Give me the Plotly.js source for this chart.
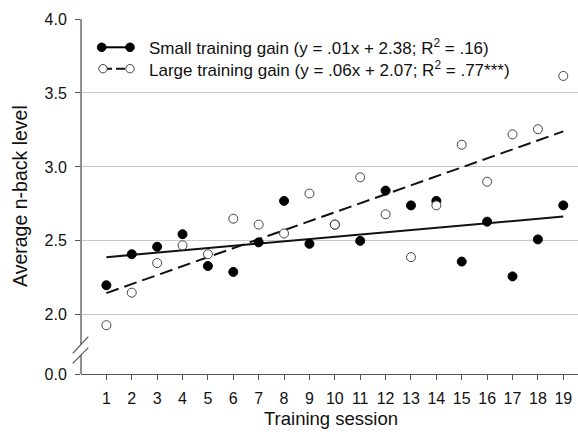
<!DOCTYPE html>
<html>
<head>
<meta charset="utf-8">
<script src="https://cdn.plot.ly/plotly-3.0.1.min.js"></script>
<style>html,body{margin:0;padding:0;background:#fff;}#chart{width:578px;height:435px;}</style>
</head>
<body>
<div id="chart"></div>
<script>
// ---- data ----
const sessions = [1,2,3,4,5,6,7,8,9,10,11,12,13,14,15,16,17,18,19];
const smallGain = [2.20,2.41,2.46,2.545,2.33,2.29,2.49,2.77,2.48,2.61,2.50,2.84,2.74,2.77,2.36,2.63,2.26,2.51,2.74];
const largeGain = [1.93,2.15,2.35,2.47,2.41,2.65,2.61,2.55,2.82,2.61,2.93,2.68,2.39,2.74,3.15,2.90,3.22,3.255,3.615];
const fitX = [1, 19];
const smallFit = [2.39, 2.665];
const largeFit = [2.147, 3.24];
const smallLabel = 'Small training gain (y = .01x + 2.38; R<sup>2</sup> = .16)';
const largeLabel = 'Large training gain (y = .06x + 2.07; R<sup>2</sup> = .77***)';
const xTitle = 'Training session';
const yTitle = 'Average n-back level';
const yTickText = ['0.0','2.0','2.5','3.0','3.5','4.0'];
const yTickReal = [0, 2.0, 2.5, 3.0, 3.5, 4.0];

// ---- broken-axis display mapping (0.0 drawn just below 2.0) ----
const breakBase = 1.6;
const yTickVals = yTickReal.map(v => v === 0 ? breakBase : v);

const W = 578, H = 435;
const M = {l:81, r:0, t:19, b:61};
const pw = W - M.l - M.r, ph = H - M.t - M.b;
const px = x => (x - M.l) / pw;          // pixel -> paper x
const py = y => (H - M.b - y) / ph;      // pixel -> paper y
const axisCol = '#555555';

const traces = [
  {x: fitX, y: smallFit, type:'scatter', mode:'lines', line:{color:'#111', width:2}, hoverinfo:'skip'},
  {x: fitX, y: largeFit, type:'scatter', mode:'lines', line:{color:'#111', width:2, dash:'13px,6px'}, hoverinfo:'skip'},
  {x: sessions, y: smallGain, type:'scatter', mode:'markers',
   marker:{symbol:'circle', size:9, color:'#000', line:{color:'#000', width:1}}},
  {x: sessions, y: largeGain, type:'scatter', mode:'markers',
   marker:{symbol:'circle', size:9, color:'#fff', line:{color:'#444', width:1}}}
];

function circ(cx, cy, r, fill, stroke){
  return {type:'circle', xref:'paper', yref:'paper', xsizemode:'pixel', ysizemode:'pixel',
    xanchor:px(cx), yanchor:py(cy), x0:-r, x1:r, y0:-r, y1:r,
    fillcolor:fill, line:{color:stroke, width:1}, layer:'above'};
}
function seg(x0,y0,x1,y1,col,w,dash){
  return {type:'line', xref:'paper', yref:'paper', x0:px(x0), y0:py(y0), x1:px(x1), y1:py(y1),
    line:{color:col, width:w, dash:dash||'solid'}, layer:'above'};
}

const r1 = 47.3, r2 = 68.7;
const shapes = [
  // y axis line with a break
  {type:'line', xref:'paper', yref:'paper', x0:0, x1:0, y0:1, y1:py(344.5), line:{color:axisCol, width:1.3}, layer:'above'},
  {type:'line', xref:'paper', yref:'paper', x0:0, x1:0, y0:py(355), y1:0, line:{color:axisCol, width:1.3}, layer:'above'},
  seg(72.7, 353.3, 88.3, 336.7, axisCol, 1.2),
  seg(72.7, 363.3, 88.3, 347.7, axisCol, 1.2),
  // legend symbols
  seg(101.7, r1, 130, r1, '#000', 2),
  circ(101.7, r1, 4.3, '#000', '#000'),
  circ(130, r1, 4.3, '#000', '#000'),
  seg(103, r2, 130, r2, '#111', 2, '9px,4px'),
  circ(103, r2, 4.2, '#fff', '#444'),
  circ(130, r2, 4.2, '#fff', '#444')
];

const font = 'Liberation Sans, Arial, Helvetica, sans-serif';
const annotations = [
  {xref:'paper', yref:'paper', x:px(147), y:py(r1), xanchor:'left', yanchor:'middle', showarrow:false,
   text:smallLabel, font:{family:font, size:17, color:'#111'}},
  {xref:'paper', yref:'paper', x:px(147), y:py(r2), xanchor:'left', yanchor:'middle', showarrow:false,
   text:largeLabel, font:{family:font, size:17, color:'#111'}},
  {xref:'paper', yref:'paper', x:px(330.5), y:py(418.5), xanchor:'center', yanchor:'middle', showarrow:false,
   text:xTitle, font:{family:font, size:18.5, color:'#111'}},
  {xref:'paper', yref:'paper', x:px(20), y:py(196), xanchor:'center', yanchor:'middle', showarrow:false,
   textangle:-90, text:yTitle, font:{family:font, size:19.5, color:'#111'}}
];

const layout = {
  width:W, height:H,
  margin:M,
  paper_bgcolor:'#fff', plot_bgcolor:'#fff',
  showlegend:false,
  font:{family:font, color:'#111'},
  xaxis:{range:[0, 19.58], tickvals:sessions, ticktext:sessions.map(String),
    showgrid:false, zeroline:false, showline:true, linecolor:axisCol, linewidth:1.3,
    ticks:'outside', ticklen:5, tickcolor:axisCol, tickwidth:1,
    tickfont:{family:font, size:16, color:'#111'}, ticklabelstandoff:4, fixedrange:true},
  yaxis:{range:[breakBase, 4.0], tickvals:yTickVals, ticktext:yTickText,
    showgrid:true, gridcolor:'#c8c8c8', gridwidth:1, zeroline:false, showline:false,
    ticks:'outside', ticklen:5, tickcolor:axisCol, tickwidth:1,
    tickfont:{family:font, size:16, color:'#111'}, ticklabelstandoff:5, fixedrange:true},
  shapes:shapes,
  annotations:annotations
};

Plotly.newPlot('chart', traces, layout, {staticPlot:true, displayModeBar:false});
</script>
</body>
</html>
